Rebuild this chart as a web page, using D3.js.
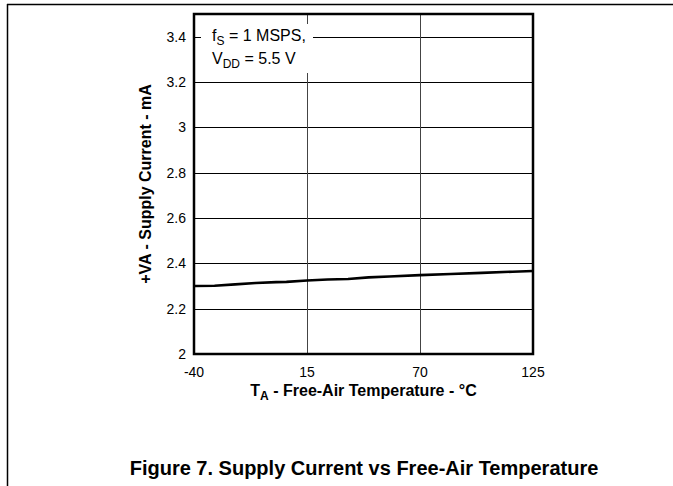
<!DOCTYPE html>
<meta charset="utf-8">
<style>
body { margin: 0; background: #fff; }
text { font-family: Arial, "Liberation Sans", sans-serif; fill: #000; }
.grid line { stroke: #000; stroke-width: 1px; shape-rendering: crispEdges; }
</style>
<body>
<script src="https://d3js.org/d3.v7.min.js"></script>
<script>
// temperature (°C) and supply current (mA)
var temps   = [-40, -30, -20, -10, 0, 5, 15, 25, 35, 45, 55, 70, 85, 100, 115, 125];
var current = [2.300, 2.301, 2.307, 2.313, 2.317, 2.318, 2.324, 2.329, 2.331, 2.338, 2.342, 2.348, 2.353, 2.358, 2.363, 2.366];
var xTicks = [-40, 15, 70, 125];
var yTicks = [2, 2.2, 2.4, 2.6, 2.8, 3, 3.2, 3.4];

var width = 673, height = 486;
// plot box edges (don't use "top" - clashes with window.top)
var pL = 194, pR = 533, pT = 14, pB = 354;

var svg = d3.select("body").append("svg")
    .attr("width", width)
    .attr("height", height);

// page frame lines
svg.append("line").attr("x1", 7).attr("x2", width).attr("y1", 4.5).attr("y2", 4.5)
    .attr("stroke", "#000").attr("stroke-width", 1.5);
svg.append("line").attr("x1", 7.5).attr("x2", 7.5).attr("y1", 4).attr("y2", height)
    .attr("stroke", "#000").attr("stroke-width", 1.5);

var x = d3.scaleLinear().domain([-40, 125]).range([pL, pR]);
var y = d3.scaleLinear().domain([2, 3.5]).range([pB, pT]);

// grid
var grid = svg.append("g").attr("class", "grid");
grid.selectAll(".gy").data(yTicks.slice(1)).enter().append("line")
    .attr("x1", pL).attr("x2", pR)
    .attr("y1", function(d) { return Math.round(y(d)) + 0.5; })
    .attr("y2", function(d) { return Math.round(y(d)) + 0.5; });
grid.selectAll(".gx").data(xTicks.slice(1, -1)).enter().append("line")
    .attr("y1", pT).attr("y2", pB)
    .attr("x1", function(d) { return Math.round(x(d)) + 0.5; })
    .attr("x2", function(d) { return Math.round(x(d)) + 0.5; })
    .style("stroke", "#444");

// legend box, white background hides grid behind the text
svg.append("rect").attr("x", 201).attr("y", 24).attr("width", 112).attr("height", 49)
    .attr("fill", "#fff");
var leg1 = svg.append("text").attr("x", 212).attr("y", 41).style("font-size", "16px");
leg1.append("tspan").text("f");
leg1.append("tspan").attr("dy", 4).style("font-size", "12px").text("S");
leg1.append("tspan").attr("dy", -4).text(" = 1 MSPS,");
var leg2 = svg.append("text").attr("x", 212).attr("y", 64).style("font-size", "16px");
leg2.append("tspan").text("V");
leg2.append("tspan").attr("dy", 4).style("font-size", "12px").text("DD");
leg2.append("tspan").attr("dy", -4).text(" = 5.5 V");

// curve
var line = d3.line()
    .x(function(d, i) { return x(temps[i]); })
    .y(function(d) { return y(d); });
svg.append("path").datum(current)
    .attr("d", line)
    .attr("fill", "none")
    .attr("stroke", "#000")
    .attr("stroke-width", 2.6)
    .attr("stroke-linejoin", "round");

// plot border
svg.append("rect").attr("x", pL).attr("y", pT)
    .attr("width", pR - pL).attr("height", pB - pT)
    .attr("fill", "none").attr("stroke", "#000").attr("stroke-width", 2.5);

// axes tick labels
var fmt = d3.format("~g");
svg.selectAll(".yl").data(yTicks).enter().append("text")
    .attr("x", pL - 8).attr("y", function(d) { return y(d) + 5; })
    .attr("text-anchor", "end").style("font-size", "14px")
    .text(function(d) { return fmt(d); });
svg.selectAll(".xl").data(xTicks).enter().append("text")
    .attr("x", function(d) { return x(d); }).attr("y", 377)
    .attr("text-anchor", "middle").style("font-size", "14px")
    .text(function(d) { return d; });

// axis titles
var xt = svg.append("text").attr("x", (pL + pR) / 2).attr("y", 396)
    .attr("text-anchor", "middle").style("font-size", "16px").style("font-weight", "bold");
xt.append("tspan").text("T");
xt.append("tspan").attr("dy", 4).style("font-size", "12px").text("A");
xt.append("tspan").attr("dy", -4).text(" - Free-Air Temperature - °C");

svg.append("text")
    .attr("transform", "translate(151," + (pT + pB) / 2 + ") rotate(-90)")
    .attr("text-anchor", "middle").style("font-size", "16px").style("font-weight", "bold")
    .text("+VA - Supply Current - mA");

// caption
svg.append("text").attr("x", 364).attr("y", 475)
    .attr("text-anchor", "middle").style("font-size", "20px").style("font-weight", "bold")
    .text("Figure 7. Supply Current vs Free-Air Temperature");
</script>
</body>
